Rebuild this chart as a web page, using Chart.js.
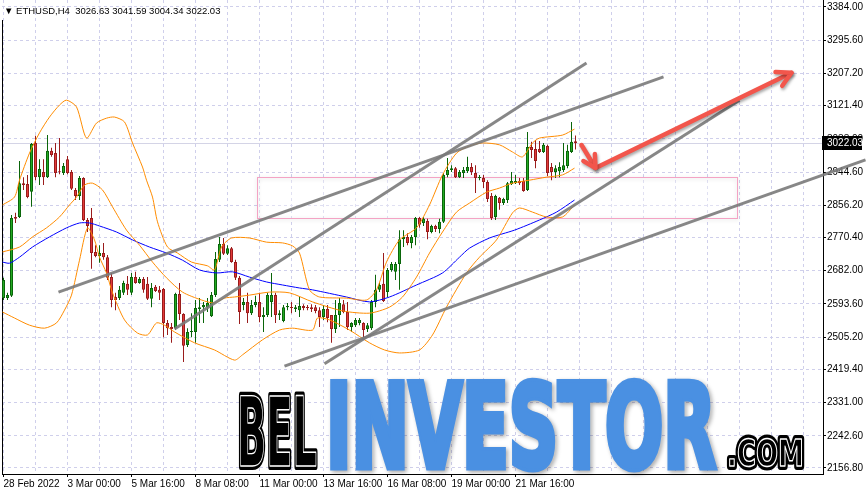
<!DOCTYPE html>
<html><head><meta charset="utf-8">
<script src="https://cdn.jsdelivr.net/npm/chart.js@4.4.1/dist/chart.umd.min.js"></script>
<style>html,body{margin:0;padding:0;background:#fff;overflow:hidden}</style>
</head><body>
<canvas id="c" width="866" height="493"></canvas>
<script>
// ---------------- DATA ----------------
const symbolTitle = '\u25BC ETHUSD,H4  3026.63 3041.59 3004.34 3022.03';
const timeLabels = ['28 Feb 2022','3 Mar 00:00','5 Mar 16:00','8 Mar 08:00','11 Mar 00:00','13 Mar 16:00','16 Mar 08:00','19 Mar 00:00','21 Mar 16:00'];
const barsPerLabel = 16;
const barsPerGrid = 8;
const yTicks = [3384.00,3295.60,3207.20,3121.40,3033.00,2944.60,2856.20,2770.40,2682.00,2593.60,2505.20,2419.40,2331.00,2242.60,2156.80];
const lastPrice = 3022.03;

const opens = [2609,2609,2615,2825,2825,2915,2913,2892,3022,2931,2945,2931,3001,2995,2945,2942,2979,2945,2897,2881,
2929,2817,2822,2732,2721,2729,2718,2665,2612,2609,2623,2647,2623,2665,2649,2660,2647,2607,2639,2631,
2633,2543,2532,2529,2620,2567,2484,2519,2519,2580,2585,2585,2561,2617,2711,2753,2727,2742,2705,2663,
2591,2599,2569,2591,2599,2559,2564,2599,2617,2564,2548,2585,2585,2580,2577,2588,2585,2585,2585,2577,
2559,2580,2564,2527,2564,2593,2572,2532,2537,2543,2543,2527,2529,2599,2631,2647,2625,2684,2679,2700,
2766,2772,2756,2772,2822,2809,2814,2785,2801,2793,2812,2937,2950,2955,2931,2942,2947,2958,2942,2929,
2929,2918,2881,2825,2876,2862,2870,2913,2915,2921,2921,2897,3011,3006,3006,2998,3014,2958,2945,2947,
2950,2961,2998,3026.63];
const highs = [2663,2623,2830,2836,2974,2931,2937,3022,3041,2979,2979,3043,3009,3022,3035,2969,2987,2950,2902,2934,
2931,2822,2849,2750,2750,2756,2724,2676,2623,2641,2655,2668,2676,2679,2665,2665,2665,2649,2644,2641,
2636,2551,2543,2623,2649,2569,2529,2569,2604,2609,2599,2609,2625,2732,2772,2769,2750,2745,2711,2668,
2609,2623,2604,2615,2623,2585,2623,2676,2623,2577,2591,2596,2599,2591,2612,2593,2591,2593,2591,2585,
2591,2591,2564,2604,2609,2604,2599,2545,2556,2556,2545,2543,2604,2671,2649,2729,2689,2705,2705,2790,
2790,2782,2777,2825,2825,2825,2820,2804,2804,2820,2942,2982,2963,2958,2950,2958,2985,2969,2963,2937,
2937,2923,2889,2884,2878,2876,2918,2945,2937,2929,2929,3051,3025,3030,3027,3022,3017,2969,2963,2971,
3022,3017,3078,3041.59];
const lows = [2604,2604,2612,2809,2822,2897,2875,2852,2923,2910,2910,2929,2985,2931,2939,2937,2939,2897,2870,2870,
2814,2785,2687,2718,2703,2711,2657,2585,2577,2604,2617,2617,2617,2647,2647,2623,2604,2585,2625,2604,
2505,2511,2490,2524,2551,2439,2479,2505,2490,2543,2543,2572,2559,2612,2705,2724,2724,2703,2657,2540,
2577,2543,2564,2585,2545,2519,2559,2559,2543,2551,2545,2577,2569,2572,2559,2577,2577,2572,2569,2532,
2551,2545,2490,2516,2532,2569,2524,2519,2532,2537,2505,2519,2524,2585,2625,2599,2612,2679,2657,2631,
2745,2750,2742,2750,2796,2801,2766,2782,2785,2782,2809,2931,2945,2929,2929,2929,2942,2937,2889,2923,
2902,2865,2817,2817,2844,2857,2862,2910,2913,2910,2892,2894,2982,2955,2995,2995,2934,2923,2929,2931,
2945,2955,2995,3004.34];
const closes = [2657,2617,2822,2820,2915,2910,2878,3019,2931,2953,2931,3001,2990,2942,2944,2961,2942,2900,2881,2929,
2817,2801,2729,2721,2729,2718,2663,2604,2604,2631,2649,2631,2665,2649,2660,2631,2607,2636,2628,2623,
2543,2529,2527,2620,2567,2482,2519,2521,2583,2585,2591,2596,2617,2713,2753,2727,2742,2705,2663,2572,
2599,2569,2591,2599,2559,2564,2617,2617,2564,2569,2585,2588,2583,2585,2588,2583,2583,2580,2575,2559,
2580,2556,2527,2564,2596,2572,2532,2543,2551,2551,2524,2537,2599,2631,2644,2601,2684,2700,2700,2766,
2772,2756,2772,2822,2804,2820,2785,2801,2793,2812,2937,2950,2955,2931,2945,2950,2958,2945,2929,2931,
2918,2873,2822,2881,2862,2873,2915,2921,2921,2915,2894,3011,3003,2974,2998,3017,2942,2945,2955,2958,
2963,3001,3025,3022.03];

// indicator lines: [bar index, price]
const bbUpper = [[-0.25,2857],[2.75,2878],[4,2923],[6.5,2995],[9,3049],[11.5,3091],[14,3123],[15.75,3136],[18.25,3118],[20.75,3035],
[23.25,3075],[25.75,3088],[27.75,3091],[30.25,3078],[32.25,3022],[34.75,2958],[35.75,2923],[37.25,2878],[38.5,2812],[41,2745],
[43.5,2729],[47,2705],[51,2695],[52.75,2684],[54.5,2745],[57,2769],[61.5,2769],[65.75,2758],[69.75,2756],[72.25,2748],
[74,2729],[76.5,2631],[79,2612],[85.75,2609],[90.75,2604],[93.25,2631],[95.75,2705],[99,2764],[103.25,2796],[106.5,2857],
[109.75,2937],[113.25,2995],[116.5,3014],[119.75,3022],[124,3017],[127.25,2998],[129.75,2985],[132.25,3022],[134,3035],[139.75,3043],[142.75,3059]];
const bbMiddle = [[-0.25,2732],[4,2745],[7.25,2772],[10.75,2796],[14,2825],[16.5,2857],[18.25,2878],[20.25,2910],[22.25,2915],[24.75,2897],
[27.25,2852],[30.75,2790],[34,2750],[37.25,2705],[40.75,2663],[44.75,2625],[49.5,2604],[52.75,2596],[55.25,2609],[57.75,2612],
[61.5,2617],[66.5,2625],[71.5,2623],[77.25,2599],[84.75,2575],[91.5,2569],[96.5,2585],[99.75,2612],[103.25,2665],[106.5,2729],
[109.75,2785],[113.25,2838],[116.5,2862],[120.75,2891],[124,2902],[127.25,2915],[131.5,2923],[135.75,2931],[139.75,2937],[142.75,2955]];
const bbLower = [[-0.25,2572],[2.75,2556],[6.5,2537],[10.25,2529],[13.25,2543],[15.25,2577],[17,2617],[19,2710],[21,2796],[22.75,2764],
[24,2718],[25.75,2676],[27.25,2623],[30.25,2551],[33.5,2516],[36,2511],[38.25,2543],[40.25,2537],[42.75,2519],[47.75,2490],
[52.75,2471],[57.75,2444],[59.75,2458],[64.75,2498],[69,2524],[72.25,2529],[77.25,2524],[78.5,2556],[81.5,2551],[86.5,2524],
[91.5,2490],[95.25,2471],[99,2463],[104,2471],[107.25,2511],[110.75,2585],[115.75,2676],[119,2718],[123.25,2764],[127.25,2836],
[129,2849],[132.25,2838],[135.75,2825],[139.75,2825],[142.75,2857]];
const maLine = [[-0.25,2705],[1.5,2702],[4,2718],[7.25,2745],[11.5,2772],[15.75,2796],[19,2809],[21.5,2809],[24,2801],[28.25,2785],
[32.25,2764],[36.5,2745],[40.75,2729],[44.75,2710],[49,2684],[53.25,2676],[57.25,2679],[61.5,2665],[65.75,2652],[69.75,2644],
[74,2636],[77.25,2631],[85.75,2612],[91.5,2599],[96.5,2612],[103.25,2644],[109.75,2676],[114,2718],[116.5,2742],[121.5,2769],
[127.75,2790],[134,2817],[138.25,2838],[142.75,2870]];

// drawn objects: trend lines [bar, price] endpoints, zone, arrow path
const trendA = [[13.75,2625],[165,3198]];
const trendB = [[42.75,2527],[145.75,3235]];
const trendC = [[80.25,2434],[184,3136]];
const trendD = [[70.25,2428],[215.5,2977]];
const zoneBars = [63.25,183.25];
const zonePrices = [2931.4,2822.3];
const arrowBars = [144.5,148,197];
const arrowPrices = [3016.6,2955.4,3208.9];

// ---------------- STYLE ----------------
const AX_FONT = '"Liberation Sans",sans-serif';
const GRID = '#cfcfeb';
const bull = {fill:'#22aa22', line:'#0a650a'};
const bear = {fill:'#e23a3a', line:'#9a1c1c'};
const isUp = opens.map((o,i)=>closes[i]>=o);

const toXY = arr => arr.map(([x,y])=>({x,y}));
const trendStyle = {type:'line', borderColor:'rgba(122,122,122,0.9)', borderWidth:3, pointRadius:0, clip:false, order:0};

function drawWatermark(ctx){
  function scaled(text, font, left, base, width, fn){
    ctx.font = font;
    const w = ctx.measureText(text).width;
    ctx.save(); ctx.translate(left, base); ctx.scale(width/w, 1); fn(text); ctx.restore();
  }
  const outlined = t => {
    ctx.lineJoin='round'; ctx.lineWidth=8; ctx.strokeStyle='#000'; ctx.strokeText(t,0,0);
    ctx.fillStyle='#000'; ctx.fillText(t,0,0);
    ctx.lineWidth=1.4; ctx.strokeStyle='#fff'; ctx.strokeText(t,0,0);
  };
  ctx.save();
  ctx.textBaseline='alphabetic'; ctx.textAlign='left';
  scaled('BEL','bold 96px "DejaVu Sans"',237,466,80,outlined);
  scaled('INVESTOR','bold 116px "DejaVu Sans"',326,467,390,t=>{
    ctx.shadowColor='rgba(0,0,0,0.35)'; ctx.shadowBlur=4; ctx.shadowOffsetX=2; ctx.shadowOffsetY=2;
    ctx.fillStyle='#4a90e2'; ctx.lineJoin='miter'; ctx.lineWidth=7; ctx.strokeStyle='#4a90e2';
    ctx.strokeText(t,0,0);
    ctx.shadowColor='rgba(0,0,0,0)';
    ctx.fillText(t,0,0);
  });
  scaled('.COM','bold 38px "DejaVu Sans"',727,466,77,outlined);
  ctx.restore();
}

const decor = {
  id:'decor',
  beforeDatasetsDraw(chart){
    const {ctx, chartArea:a, scales:{x,y}} = chart;
    ctx.save();
    const by = Math.round(y.getPixelForValue(lastPrice))+0.5;
    ctx.strokeStyle='#d4d4e6'; ctx.lineWidth=1;
    ctx.beginPath(); ctx.moveTo(a.left,by); ctx.lineTo(a.right,by); ctx.stroke();
    ctx.strokeStyle='#000';
    ctx.beginPath(); ctx.moveTo(a.left+0.5,20); ctx.lineTo(a.left+0.5,a.bottom); ctx.stroke();
    drawWatermark(ctx);
    const x1=Math.round(x.getPixelForValue(zoneBars[0]))+0.5, x2=Math.round(x.getPixelForValue(zoneBars[1]))+0.5;
    const y1=Math.round(y.getPixelForValue(zonePrices[0]))+0.5, y2=Math.round(y.getPixelForValue(zonePrices[1]))+0.5;
    ctx.fillStyle='rgba(255,255,255,0.35)'; ctx.fillRect(x1,y1,x2-x1,y2-y1);
    ctx.shadowColor='rgba(0,0,0,0.18)'; ctx.shadowBlur=4; ctx.shadowOffsetY=1;
    ctx.strokeStyle='#f4a3c4'; ctx.lineWidth=1; ctx.strokeRect(x1,y1,x2-x1,y2-y1);
    ctx.restore();
  },
  afterDatasetsDraw(chart){
    const {ctx, scales:{x,y}} = chart;
    const p = arrowBars.map((b,i)=>[x.getPixelForValue(b), y.getPixelForValue(arrowPrices[i])]);
    ctx.save();
    ctx.strokeStyle='#f2564c'; ctx.lineWidth=4.5; ctx.lineCap='round'; ctx.lineJoin='round';
    ctx.shadowColor='rgba(0,0,0,0.35)'; ctx.shadowBlur=3; ctx.shadowOffsetX=1; ctx.shadowOffsetY=2;
    ctx.beginPath(); ctx.moveTo(p[0][0],p[0][1]); ctx.lineTo(p[1][0],p[1][1]); ctx.lineTo(p[2][0],p[2][1]); ctx.stroke();
    function head(from,to,len){
      const ang=Math.atan2(to[1]-from[1], to[0]-from[0]);
      ctx.beginPath();
      ctx.moveTo(to[0]-len*Math.cos(ang-0.5), to[1]-len*Math.sin(ang-0.5));
      ctx.lineTo(to[0],to[1]);
      ctx.lineTo(to[0]-len*Math.cos(ang+0.5), to[1]-len*Math.sin(ang+0.5));
      ctx.stroke();
    }
    head(p[0],p[1],14); head(p[1],p[2],16);
    ctx.restore();
  },
  afterDraw(chart){
    const {ctx, chartArea:a, scales:{y}} = chart;
    ctx.save();
    ctx.font='9.5px '+AX_FONT; ctx.fillStyle='#000'; ctx.textBaseline='alphabetic'; ctx.textAlign='left';
    ctx.fillText(symbolTitle,4,14);
    const py = y.getPixelForValue(lastPrice);
    ctx.font='10px '+AX_FONT;
    ctx.fillStyle='#000'; ctx.fillRect(a.right-1, Math.round(py)-7, 40, 14);
    ctx.fillStyle='#fff'; ctx.textBaseline='middle';
    ctx.fillText(lastPrice.toFixed(2), a.right+4, Math.round(py)+0.5);
    ctx.restore();
  }
};

new Chart(document.getElementById('c'), {
  type:'bar',
  data:{datasets:[
    {type:'line', data:toXY(trendA), ...trendStyle},
    {type:'line', data:toXY(trendB), ...trendStyle},
    {type:'line', data:toXY(trendC), ...trendStyle},
    {type:'line', data:toXY(trendD), ...trendStyle},
    {type:'line', data:toXY(bbUpper), borderColor:'#ff8c00', borderWidth:1, pointRadius:0, tension:0.25, order:1},
    {type:'line', data:toXY(bbMiddle), borderColor:'#ff8c00', borderWidth:1, pointRadius:0, tension:0.25, order:1},
    {type:'line', data:toXY(bbLower), borderColor:'#ff8c00', borderWidth:1, pointRadius:0, tension:0.25, order:1},
    {type:'line', data:toXY(maLine), borderColor:'#0000ff', borderWidth:1, pointRadius:0, tension:0.25, order:1},
    {type:'bar', data:opens.map((o,i)=>({x:i, y:[o, closes[i]]})), grouped:false, barThickness:3, minBarLength:1,
     backgroundColor:isUp.map(u=>u?bull.fill:bear.fill), borderColor:isUp.map(u=>u?bull.line:bear.line),
     borderWidth:1, borderSkipped:false, inflateAmount:0, order:2},
    {type:'bar', data:lows.map((l,i)=>({x:i, y:[l, highs[i]]})), grouped:false, barThickness:1,
     backgroundColor:isUp.map(u=>u?bull.line:bear.line), borderWidth:0, inflateAmount:0, order:3}
  ]},
  options:{
    responsive:false, animation:false, events:[],
    layout:{padding:{left:2,top:0,right:0,bottom:0}},
    plugins:{legend:{display:false}, tooltip:{enabled:false}},
    scales:{
      x:{type:'linear', min:-0.375, max:204.875, offset:false,
         afterBuildTicks:s=>{ s.ticks=[]; for(let v=0; v<=204; v+=barsPerGrid) s.ticks.push({value:v}); },
         afterFit:s=>{ s.height=19; s.paddingLeft=0; s.paddingRight=0; },
         grid:{offset:false, color:GRID, lineWidth:1, tickLength:3,
               tickColor:c=>(c.tick && c.tick.value%barsPerLabel===0 && c.tick.value/barsPerLabel<timeLabels.length)?'#000':'rgba(0,0,0,0)'},
         border:{display:true, color:'#000', width:1, dash:[3,3]},
         ticks:{autoSkip:false, maxRotation:0, minRotation:0, align:'start', padding:1, color:'#000',
                font:{family:AX_FONT, size:10},
                callback:v=>(v%barsPerLabel===0 && v/barsPerLabel<timeLabels.length)?timeLabels[v/barsPerLabel]:''}},
      y:{position:'right', min:2140.8, max:3402.6,
         afterBuildTicks:s=>{ s.ticks=yTicks.map(v=>({value:v})); },
         afterFit:s=>{ s.width=43; s.paddingTop=0; s.paddingBottom=0; },
         grid:{color:GRID, lineWidth:1, tickLength:3, tickColor:'#000'},
         border:{display:true, color:'#000', width:1, dash:[3,3]},
         ticks:{padding:1, color:'#000', font:{family:AX_FONT, size:10}, callback:v=>Number(v).toFixed(2)}}
    }
  },
  plugins:[decor]
});
</script>
</body></html>
